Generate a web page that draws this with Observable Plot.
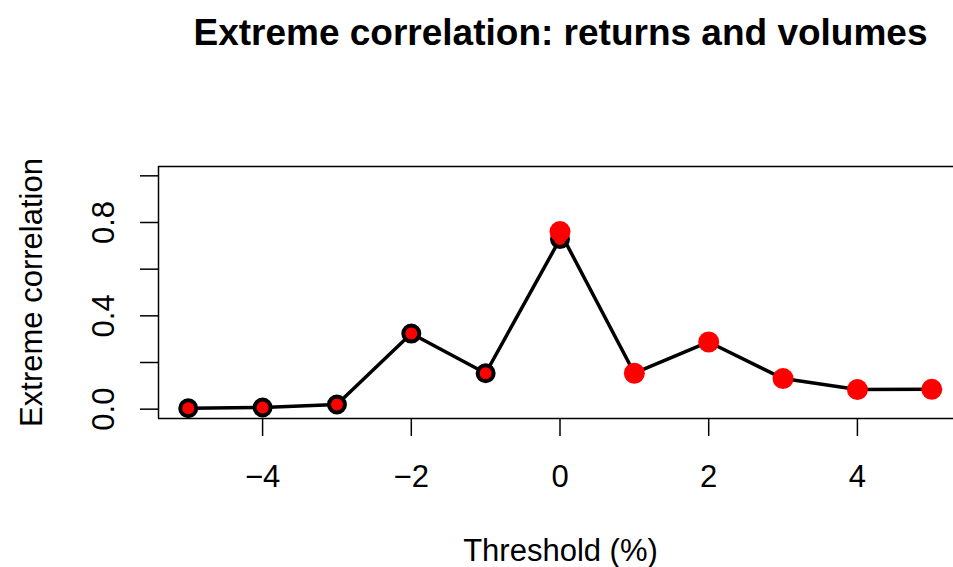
<!DOCTYPE html>
<html>
<head>
<meta charset="utf-8">
<script src="https://cdn.jsdelivr.net/npm/d3@7"></script>
<script src="https://cdn.jsdelivr.net/npm/@observablehq/plot@0.6"></script>
<style>
  html, body { margin: 0; padding: 0; background: #fff; }
  #chart svg { display: block; font-family: "Liberation Sans", Arial, sans-serif; }
</style>
</head>
<body>
<div id="chart"></div>
<script>
// Thresholds (%) and extreme correlations between returns and volumes
const negThresholds = [-5, -4, -3, -2, -1, 0];
const negCorrelation = [0.004, 0.007, 0.020, 0.324, 0.154, 0.729];
const posThresholds = [0, 1, 2, 3, 4, 5];
const posCorrelation = [0.761, 0.154, 0.288, 0.131, 0.084, 0.085];

const xTicks = [-4, -2, 0, 2, 4];
const yTicks = [0, 0.2, 0.4, 0.6, 0.8, 1.0];
const yTickLabels = ["0.0", "", "0.4", "", "0.8", ""];

const titleText = "Extreme correlation: returns and volumes";
const xLabel = "Threshold (%)";
const yLabel = "Extreme correlation";

const neg = negThresholds.map((t, i) => ({t, r: negCorrelation[i]}));
const pos = posThresholds.map((t, i) => ({t, r: posCorrelation[i]}));

const W = 953, H = 567;
const mLeft = 158, mTop = 166, mBottom = 149;
const font = "Liberation Sans, Arial, sans-serif";
const minus = (d) => (d < 0 ? "\u2212" + Math.abs(d) : String(d));

const chart = Plot.plot({
  width: W,
  height: H,
  marginLeft: mLeft,
  marginRight: 0,
  marginTop: mTop,
  marginBottom: mBottom,
  style: {fontFamily: font, background: "#fff", color: "#000"},
  x: {domain: [-5.4, 5.4], range: [mLeft, 961]},
  y: {domain: [-0.04, 1.04]},
  marks: [
    // plot box (left, top and bottom edges)
    Plot.ruleY([-0.04, 1.04], {stroke: "#000", strokeWidth: 1.5}),
    Plot.ruleX([-5.4], {stroke: "#000", strokeWidth: 1.5}),
    Plot.axisX({
      ticks: xTicks, tickFormat: minus, tickSize: 18, tickPadding: 28,
      fontSize: 31, label: null, strokeWidth: 1.5, stroke: "#000"
    }),
    Plot.axisY({
      ticks: yTicks, tickFormat: (d, i) => yTickLabels[i], tickSize: 18,
      tickRotate: -90, tickPadding: 27, fontSize: 31, label: null,
      strokeWidth: 1.5, stroke: "#000"
    }),
    // connecting lines
    Plot.line(neg, {x: "t", y: "r", stroke: "#000", strokeWidth: 3.5}),
    Plot.line(pos, {x: "t", y: "r", stroke: "#000", strokeWidth: 3.5}),
    // points
    Plot.dot(neg, {x: "t", y: "r", r: 8, fill: "#ff0000", stroke: "#000", strokeWidth: 4}),
    Plot.dot(pos, {x: "t", y: "r", r: 10.5, fill: "#ff0000", stroke: "none"}),
    // titles
    Plot.text([titleText], {
      frameAnchor: "top", dx: 4.5, dy: -122, lineAnchor: "bottom",
      fontSize: 37, fontWeight: "bold", fill: "#000"
    }),
    Plot.text([xLabel], {
      frameAnchor: "bottom", dx: 4.5, dy: 142, lineAnchor: "bottom",
      fontSize: 31, fill: "#000"
    }),
    Plot.text([yLabel], {
      frameAnchor: "left", dx: -117, rotate: -90, lineAnchor: "bottom",
      textAnchor: "middle", fontSize: 31, fill: "#000"
    })
  ]
});

document.getElementById("chart").appendChild(chart);
</script>
</body>
</html>
